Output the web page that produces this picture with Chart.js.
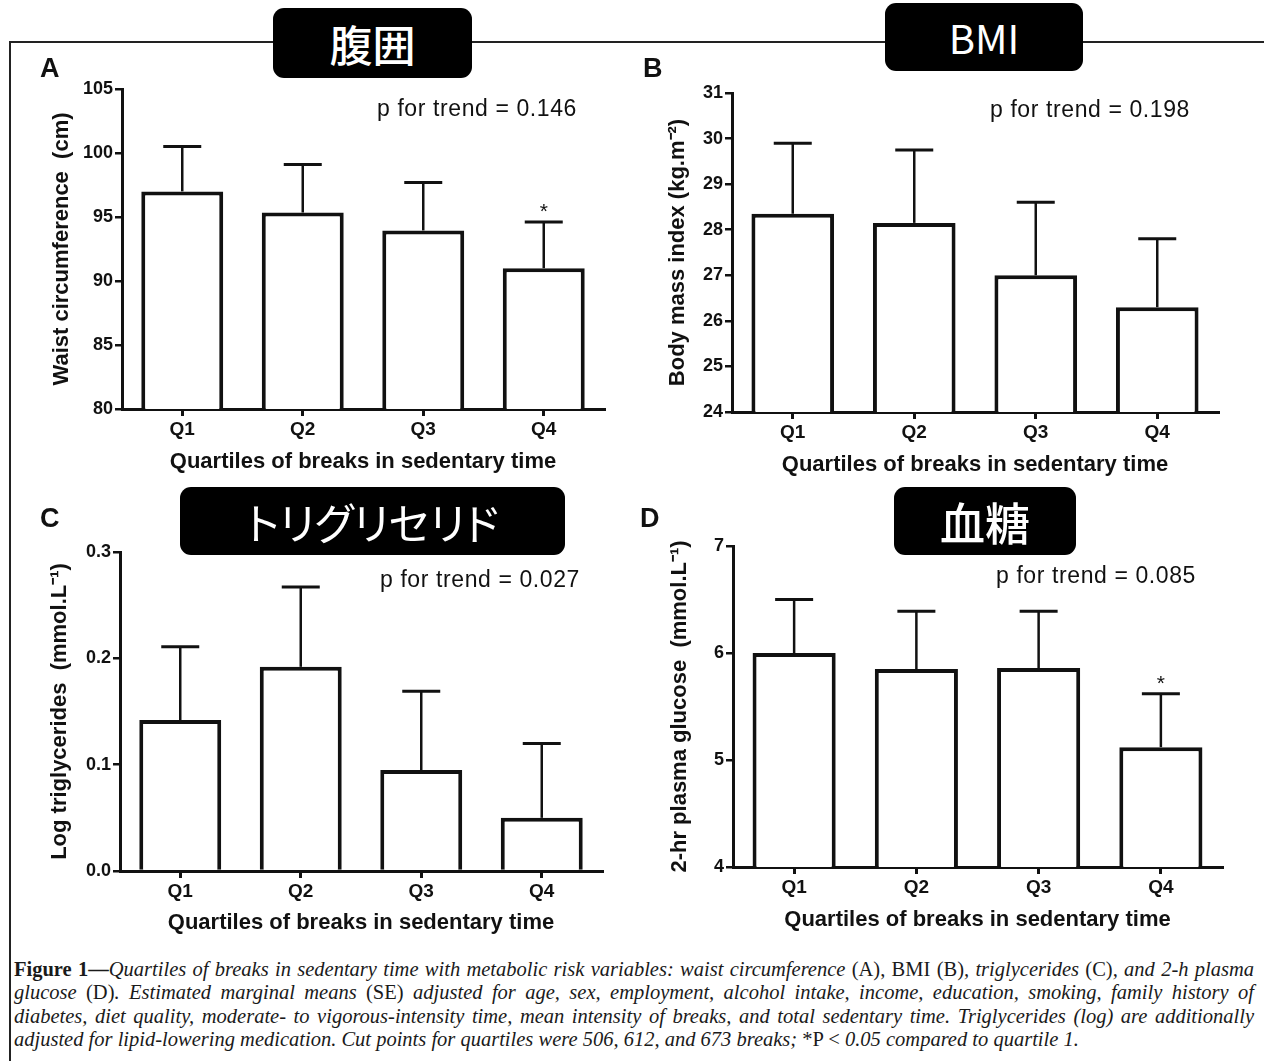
<!DOCTYPE html>
<html>
<head>
<meta charset="utf-8">
<script src="https://cdn.jsdelivr.net/npm/chart.js@4.4.1/dist/chart.umd.min.js"></script>
<style>
    html, body { margin: 0; padding: 0; background: #fff; }
    body { width: 1264px; height: 1061px; position: relative; overflow: hidden; font-family: "Liberation Sans", Arial, sans-serif; }
    canvas { position: absolute; }
    .frame-top { position: absolute; left: 10px; top: 41px; width: 1254px; height: 2px; background: #222; }
    .frame-left { position: absolute; left: 9px; top: 41px; width: 2px; height: 1020px; background: #222; }
    .letter { position: absolute; font: bold 27px/27px "Liberation Sans", Arial, sans-serif; color: #111; }
    .tag { position: absolute; background: #000; color: #fff; border-radius: 11px; display: flex; align-items: center; justify-content: center;
        font-family: "Noto Sans CJK JP", sans-serif; font-weight: 500; z-index: 2; }
    #caption { position: absolute; left: 14px; top: 958px; width: 1240px; color: #1a1a1a;
        font-family: "Liberation Serif", "Times New Roman", serif; font-size: 20.5px; line-height: 23.4px; }
    #caption .ln { white-space: nowrap; text-align: justify; text-align-last: justify; }
    #caption .ln.last { text-align-last: left; }
    #caption i { font-style: italic; }
    #caption .up { font-style: normal; }
</style>
</head>
<body>
<div class="frame-top"></div>
<div class="frame-left"></div>

<canvas id="chartA" width="630" height="420" style="left:0;top:60px"></canvas>
<canvas id="chartB" width="634" height="420" style="left:630px;top:60px"></canvas>
<canvas id="chartC" width="630" height="440" style="left:0;top:500px"></canvas>
<canvas id="chartD" width="634" height="440" style="left:630px;top:500px"></canvas>

<div class="letter" style="left:40px;top:55px">A</div>
<div class="letter" style="left:643px;top:55px">B</div>
<div class="letter" style="left:40px;top:505px">C</div>
<div class="letter" style="left:640px;top:505px">D</div>

<div class="tag" style="left:273px;top:8px;width:199px;height:70px;font-size:43px">腹囲</div>
<div class="tag" style="left:885px;top:3px;width:198px;height:68px;font-size:40px;font-weight:400">BMI</div>
<div class="tag" style="left:180px;top:487px;width:385px;height:68px;font-size:43px;font-weight:400;font-feature-settings:'palt'">トリグリセリド</div>
<div class="tag" style="left:894px;top:487px;width:182px;height:68px;font-size:45px">血糖</div>

<div id="caption">
    <div class="ln"><b>Figure 1—</b><i>Quartiles of breaks in sedentary time with metabolic risk variables: waist circumference <span class="up">(A), BMI (B)</span>, triglycerides <span class="up">(C)</span>, and 2-h plasma</i></div>
    <div class="ln"><i>glucose <span class="up">(D)</span>. Estimated marginal means <span class="up">(SE)</span> adjusted for age, sex, employment, alcohol intake, income, education, smoking, family history of</i></div>
    <div class="ln"><i>diabetes, diet quality, moderate- to vigorous-intensity time, mean intensity of breaks, and total sedentary time. Triglycerides (log) are additionally</i></div>
    <div class="ln last"><i>adjusted for lipid-lowering medication. Cut points for quartiles were 506, 612, and 673 breaks; <span class="up">*P &lt;</span> 0.05 compared to quartile 1.</i></div>
</div>

<script>
    const quartiles = ['Q1', 'Q2', 'Q3', 'Q4'];
    const xTitle = 'Quartiles of breaks in sedentary time';

    // A - waist circumference (cm)
    const waistMeans = [97.0, 95.35, 93.95, 91.0];
    const waistSE = [3.5, 3.75, 3.75, 3.6];
    const waistMarks = ['', '', '', '*'];
    const waistTicks = [80, 85, 90, 95, 100, 105];

    // B - BMI (kg.m-2)
    const bmiMeans = [28.35, 28.15, 27.0, 26.3];
    const bmiSE = [1.55, 1.6, 1.6, 1.5];
    const bmiMarks = ['', '', '', ''];
    const bmiTicks = [24, 25, 26, 27, 28, 29, 30, 31];

    // C - log triglycerides (mmol.L-1)
    const trigMeans = [0.142, 0.192, 0.095, 0.050];
    const trigSE = [0.069, 0.075, 0.074, 0.070];
    const trigMarks = ['', '', '', ''];
    const trigTicks = [0.0, 0.1, 0.2, 0.3];

    // D - 2-hr plasma glucose (mmol.L-1)
    const glucMeans = [6.0, 5.85, 5.86, 5.12];
    const glucSE = [0.5, 0.54, 0.53, 0.5];
    const glucMarks = ['', '', '', '*'];
    const glucTicks = [4, 5, 6, 7];

    const ink = '#111';
    Chart.defaults.font.family = '"Liberation Sans", Arial, sans-serif';
    Chart.defaults.color = ink;

    const errorBars = {
        id: 'errorBars',
        afterDatasetsDraw(chart, args, opts) {
            const ctx = chart.ctx;
            const y = chart.scales.y;
            const ds = chart.data.datasets[0];
            const meta = chart.getDatasetMeta(0);
            ctx.save();
            ctx.strokeStyle = ink;
            ctx.fillStyle = ink;
            meta.data.forEach((bar, i) => {
                const top = y.getPixelForValue(ds.data[i]);
                const end = y.getPixelForValue(ds.data[i] + ds.se[i]);
                ctx.lineWidth = 2.5;
                ctx.beginPath();
                ctx.moveTo(bar.x, top);
                ctx.lineTo(bar.x, end);
                ctx.stroke();
                ctx.lineWidth = 3;
                ctx.beginPath();
                ctx.moveTo(bar.x - opts.cap, end);
                ctx.lineTo(bar.x + opts.cap, end);
                ctx.stroke();
                if (ds.marks[i]) {
                    ctx.font = '21px "Liberation Sans", Arial, sans-serif';
                    ctx.textAlign = 'center';
                    ctx.textBaseline = 'alphabetic';
                    ctx.fillText(ds.marks[i], bar.x, end - 4);
                }
            });
            // p for trend
            const area = chart.chartArea;
            ctx.font = '23px "Liberation Sans", Arial, sans-serif';
            ctx.letterSpacing = '0.6px';
            ctx.textAlign = 'right';
            ctx.textBaseline = 'alphabetic';
            ctx.fillText(opts.trend, area.right + opts.dx, area.top + opts.dy);
            ctx.restore();
        }
    };

    function buildPanel(id, o) {
        return new Chart(document.getElementById(id), {
            type: 'bar',
            data: {
                labels: quartiles,
                datasets: [{
                    data: o.means,
                    se: o.se,
                    marks: o.marks,
                    backgroundColor: '#fff',
                    borderColor: ink,
                    borderWidth: 4,
                    barPercentage: 0.68,
                    categoryPercentage: 1
                }]
            },
            options: {
                responsive: false,
                animation: false,
                devicePixelRatio: 1,
                layout: {padding: o.padding},
                plugins: {
                    legend: {display: false},
                    tooltip: {enabled: false},
                    errorBars: {cap: 19, trend: o.trend, dx: o.dx, dy: o.dy}
                },
                scales: {
                    x: {
                        offset: true,
                        grid: {offset: false, drawOnChartArea: false, tickLength: 7, lineWidth: 3, color: ink},
                        border: {width: 3, color: ink},
                        ticks: {font: {size: 19, weight: 'bold'}, padding: 2},
                        title: {display: true, text: xTitle, font: {size: 22, weight: 'bold'}, padding: 0},
                        afterFit: s => { s.height = o.xHeight; }
                    },
                    y: {
                        min: o.ticks[0],
                        max: o.ticks[o.ticks.length - 1],
                        afterBuildTicks: s => { s.ticks = o.ticks.map(v => ({value: v})); },
                        grid: {drawOnChartArea: false, tickLength: 7, lineWidth: 2.5, color: ink},
                        border: {width: 3, color: ink},
                        ticks: {
                            font: {size: 18, weight: 'bold'},
                            padding: 2,
                            callback: v => v.toFixed(o.decimals)
                        },
                        title: {display: true, text: o.yTitle, font: {size: 22, weight: 'bold'}, padding: 0},
                        afterFit: s => { s.width = o.yWidth; }
                    }
                }
            },
            plugins: [errorBars]
        });
    }

    buildPanel('chartA', {
        means: waistMeans, se: waistSE, marks: waistMarks, ticks: waistTicks, decimals: 0,
        yTitle: 'Waist circumference  (cm)', trend: 'p for trend = 0.146',
        padding: {left: 49, top: 29, right: 26, bottom: 5}, yWidth: 73, xHeight: 66, dx: -27, dy: 27
    });
    buildPanel('chartB', {
        means: bmiMeans, se: bmiSE, marks: bmiMarks, ticks: bmiTicks, decimals: 0,
        yTitle: 'Body mass index (kg.m⁻²)', trend: 'p for trend = 0.198',
        padding: {left: 35, top: 33, right: 46, bottom: 2}, yWidth: 67, xHeight: 66, dx: -28, dy: 24
    });
    buildPanel('chartC', {
        means: trigMeans, se: trigSE, marks: trigMarks, ticks: trigTicks, decimals: 1,
        yTitle: 'Log triglycerides  (mmol.L⁻¹)', trend: 'p for trend = 0.027',
        padding: {left: 47, top: 52, right: 28, bottom: 4}, yWidth: 73, xHeight: 65, dx: -22, dy: 35
    });
    buildPanel('chartD', {
        means: glucMeans, se: glucSE, marks: glucMarks, ticks: glucTicks, decimals: 0,
        yTitle: '2-hr plasma glucose  (mmol.L⁻¹)', trend: 'p for trend = 0.085',
        padding: {left: 37, top: 46, right: 42, bottom: 7}, yWidth: 66, xHeight: 66, dx: -26, dy: 37
    });
</script>
</body>
</html>
